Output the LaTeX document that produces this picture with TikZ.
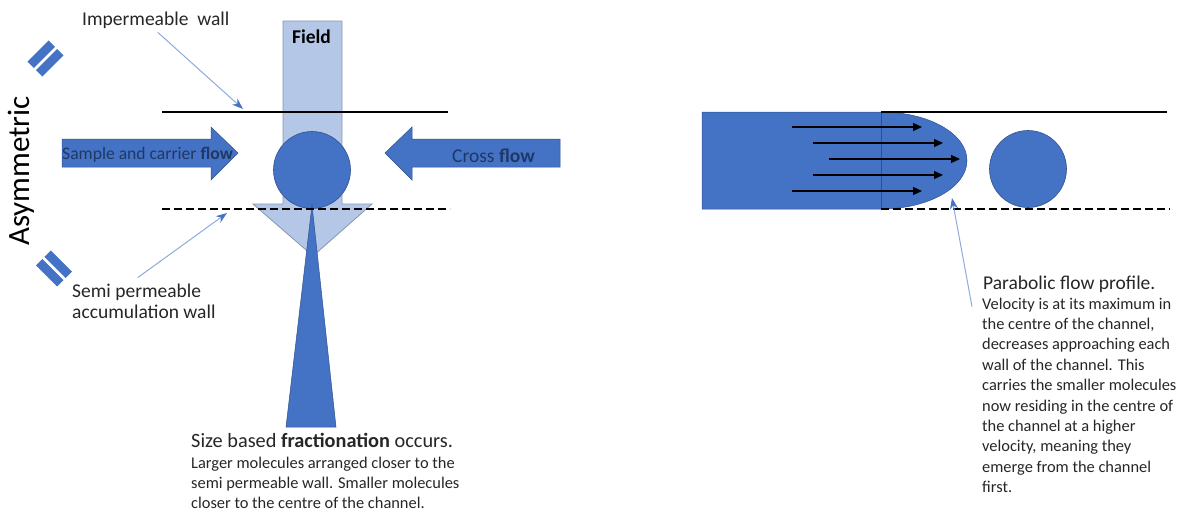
\documentclass[tikz,border=0pt]{standalone}
\usepackage{fontspec}
\setmainfont{Carlito}
\usepackage{xcolor}
\usetikzlibrary{arrows.meta,calc}
\definecolor{officeblue}{HTML}{4472C4}
\definecolor{officedark}{HTML}{2F528F}
\definecolor{fieldfill}{HTML}{B4C7E7}
\definecolor{fieldedge}{HTML}{8497B0}
\definecolor{pointerblue}{HTML}{8FAADC}
\definecolor{ink}{HTML}{262626}
\definecolor{navytext}{HTML}{1F3864}
\tikzset{
  wall/.style={draw=black,line width=1.1pt},
  semiwall/.style={draw=black,line width=2pt,dash pattern=on 8pt off 4pt},
  fieldarrow/.style={fill=fieldfill,draw=fieldedge,line width=0.8pt,line join=miter},
  flowarrow/.style={fill=officeblue,draw=officedark,line width=0.5pt},
  particle/.style={fill=officeblue,draw=officedark,line width=0.6pt},
  wallbar/.style={fill=officeblue},
  streamline/.style={draw=black,line width=1.3pt,-{Triangle[length=9pt,width=8pt]}},
  pointer/.style={draw=pointerblue,line width=1pt,-{Stealth[length=11pt,width=8pt,color=officeblue]}},
  label/.style={font=\fontsize{19.5}{21.5}\selectfont,text=ink,inner sep=0pt,align=left},
  note/.style={font=\fontsize{16.4}{20.4}\selectfont,text=ink,inner sep=0pt,align=left}
}

\begin{document}
\begin{tikzpicture}[x=1pt,y=-1pt]
  \useasboundingbox (0,0) rectangle (1184,515);
  % left: asymmetric channel
  \fill[fieldarrow] (283,21) -- (342,21) -- (342,204) -- (372,204) -- (313,256)
    -- (253,204) -- (283,204) -- cycle;
  \fill[particle] (312,170) circle[radius=38.5];
  \fill[flowarrow] (312,205) -- (336,427) -- (286,427) -- cycle;
  \draw[wall] (162,112) -- (448,112);
  \draw[semiwall] (162,209) -- (450,209);
  \fill[flowarrow] (62,139) -- (211,139) -- (211,127) -- (238,153) -- (211,180)
    -- (211,167) -- (62,167) -- cycle;
  \fill[flowarrow] (560,139) -- (412,139) -- (412,127) -- (385,153) -- (412,180)
    -- (412,167) -- (560,167) -- cycle;
  \begin{scope}[shift={(45.5,58.5)},rotate=45]
    \fill[wallbar] (-15,-10.5) rectangle (15,-1.5) (-15,1.5) rectangle (15,10.5);
  \end{scope}
  \begin{scope}[shift={(54,268.5)},rotate=-45]
    \fill[wallbar] (-15,-10.5) rectangle (15,-1.5) (-15,1.5) rectangle (15,10.5);
  \end{scope}
  \node[label,rotate=90,font=\fontsize{31}{31}\selectfont,text=black] (asym) at (21,171) {Asymmetric};
  \node[label,anchor=base west] (imp) at (82,25) {Impermeable\ \ wall};
  \node[label,anchor=base,text=black] (field) at (311.5,43) {\textbf{Field}};
  \node[label,anchor=base west,font=\fontsize{17.6}{19}\selectfont,text=navytext] (sample) at (62,159.5)
    {Sample and carrier \textbf{flow}};
  \node[label,anchor=base west,text=navytext] (cross) at (452,162) {Cross \textbf{flow}};
  \node[label,anchor=north west] (semi) at (72,283.5) {Semi permeable\\accumulation wall};
  \node[label,anchor=base west,font=\fontsize{20.3}{22}\selectfont] (sizetitle) at (191,447)
    {Size based \textbf{fractionation} occurs.};
  \node[note,anchor=north west] (sizebody) at (191,456.6)
    {Larger molecules arranged closer to the\\semi permeable wall. Smaller molecules\\closer to the centre of the channel.};
  \coordinate (impwall) at (243,109);
  \coordinate (semiwallpt) at (227,213);
  \draw[pointer] ($(imp.south)+(2,4)$) -- (impwall);
  \draw[pointer] ($(semi.north)+(-6,-6)$) -- (semiwallpt);
  % right: parabolic profile
  \fill[flowarrow] (702,112) -- (881,112) arc[start angle=-90,end angle=90,x radius=86,y radius=48.5]
    -- (702,209) -- cycle;
  \draw[officedark,line width=0.8pt] (881,112) -- (881,209);
  \draw[wall] (881,112) -- (1167,112);
  \draw[semiwall] (881,209) -- (1170,209);
  \foreach \y/\xs/\xe in {127/792/922,143/813/943,159/829/960,175/813/943,191/792/922}
    \draw[streamline] (\xs,\y) -- (\xe,\y);
  \fill[particle] (1028,169) circle[radius=38.5];
  \node[label,anchor=base west] (paratitle) at (983,289) {Parabolic flow profile.};
  \node[note,anchor=north west] (parabody) at (982,297.6)
    {Velocity is at its maximum in\\the centre of the channel,\\decreases approaching each\\wall of the channel. This\\carries the smaller molecules\\now residing in the centre of\\the channel at a higher\\velocity, meaning they\\emerge from the channel\\first.};
  \coordinate (profiletip) at (952,198);
  \draw[pointer] ($(parabody.north west)+(-10,9)$) -- (profiletip);
\end{tikzpicture}
\end{document}
